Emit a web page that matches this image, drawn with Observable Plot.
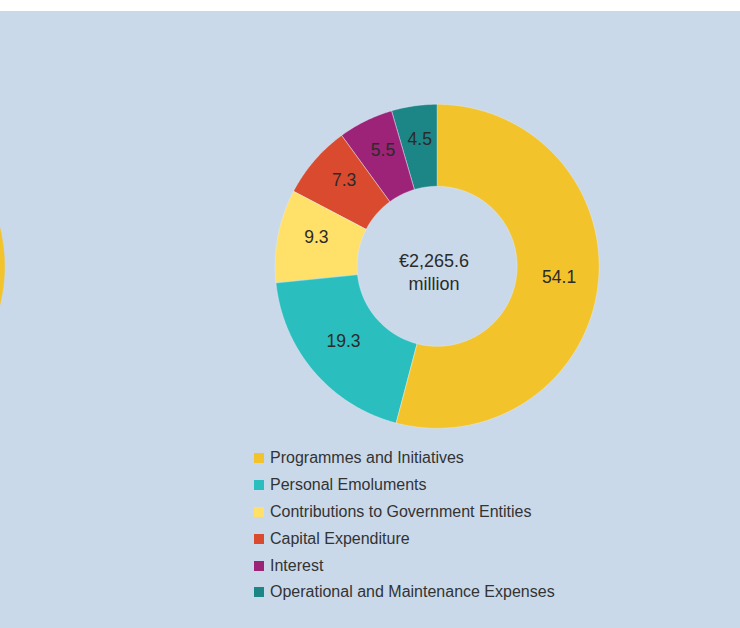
<!DOCTYPE html>
<html>
<head>
<meta charset="utf-8">
<script src="https://cdn.jsdelivr.net/npm/d3@7"></script>
<script src="https://cdn.jsdelivr.net/npm/@observablehq/plot@0.6"></script>
<style>
  html, body { margin: 0; padding: 0; background: #ffffff; }
  #panel { margin-top: 11px; width: 740px; height: 617px; background: #C9D9EA; position: relative; overflow: hidden;
           font-family: "Liberation Sans", Arial, sans-serif; }
  #legend { margin-left: 254px; padding-top: 4px; }
  .row { display: flex; align-items: center; height: 26.8px; font-size: 16px; color: #333333; }
  .sw { width: 10px; height: 10px; margin-right: 6px; flex: none; }
</style>
</head>
<body>
<div id="panel">
  <div id="chart"></div>
  <div id="legend"></div>
</div>
<script>
const categories = [
  "Programmes and Initiatives",
  "Personal Emoluments",
  "Contributions to Government Entities",
  "Capital Expenditure",
  "Interest",
  "Operational and Maintenance Expenses"
];
const shares = [54.1, 19.3, 9.3, 7.3, 5.5, 4.5];
const colors = ["#F2C32A", "#2ABFBE", "#FFE068", "#D94A2F", "#9C2378", "#1C8585"];
const totalLabel = "€2,265.6";
const totalUnit = "million";

// geometry (chart units = pixels, centre of main donut at 0,0)
const outerR = 162, innerR = 80, labelR = 123;
const neighbourCx = -594.6; // centre of the neighbouring (cut-off) donut

function ring(cx, tag) {
  const total = d3.sum(shares);
  const pts = [];
  let acc = 0;
  shares.forEach((v, i) => {
    const a0 = acc / total * 2 * Math.PI;
    acc += v;
    const a1 = acc / total * 2 * Math.PI;
    const n = Math.max(4, Math.ceil((a1 - a0) / (Math.PI / 360)));
    const key = tag + i;
    for (let k = 0; k <= n; k++) {
      const a = a0 + (a1 - a0) * k / n;
      pts.push({key, cat: categories[i], x: cx + outerR * Math.sin(a), y: outerR * Math.cos(a)});
    }
    for (let k = n; k >= 0; k--) {
      const a = a0 + (a1 - a0) * k / n;
      pts.push({key, cat: categories[i], x: cx + innerR * Math.sin(a), y: innerR * Math.cos(a)});
    }
  });
  return pts;
}

const mainRing = ring(0, "m");
const sideRing = ring(neighbourCx, "s");

const labels = (() => {
  const total = d3.sum(shares);
  let acc = 0;
  return shares.map((v, i) => {
    const am = (acc + v / 2) / total * 2 * Math.PI;
    acc += v;
    return {text: v.toFixed(1), x: labelR * Math.sin(am), y: labelR * Math.cos(am)};
  });
})();

const W = 740, H = 430, cxPx = 436.6, cyPx = 254.8;

const plot = Plot.plot({
  width: W,
  height: H,
  margin: 0,
  x: {domain: [-cxPx, W - cxPx], range: [0, W], axis: null},
  y: {domain: [cyPx - H, cyPx], range: [H, 0], axis: null},
  color: {domain: categories, range: colors},
  style: {background: "transparent", fontFamily: "'Liberation Sans', Arial, sans-serif", overflow: "hidden"},
  marks: [
    Plot.line(sideRing, {x: "x", y: "y", z: "key", fill: "cat", stroke: "cat", strokeWidth: 0.5, curve: "linear-closed", clip: true}),
    Plot.line(mainRing, {x: "x", y: "y", z: "key", fill: "cat", stroke: "#e8eef5", strokeWidth: 0.6, strokeOpacity: 0.7, curve: "linear-closed"}),
    Plot.text(labels, {x: "x", y: "y", text: "text", fontSize: 17.5, fill: "#2b2b2b", dy: -5}),
    Plot.text([{x: 0, y: 0, t: totalLabel + "\n" + totalUnit}], {x: "x", y: "y", text: "t", fontSize: 18, lineHeight: 1.28, fill: "#2b2b2b", dx: -3, dy: 5})
  ]
});
document.getElementById("chart").appendChild(plot);

const legend = document.getElementById("legend");
categories.forEach((c, i) => {
  const row = document.createElement("div");
  row.className = "row";
  const sw = document.createElement("span");
  sw.className = "sw";
  sw.style.background = colors[i];
  const tx = document.createElement("span");
  tx.textContent = c;
  row.appendChild(sw);
  row.appendChild(tx);
  legend.appendChild(row);
});
</script>
</body>
</html>
